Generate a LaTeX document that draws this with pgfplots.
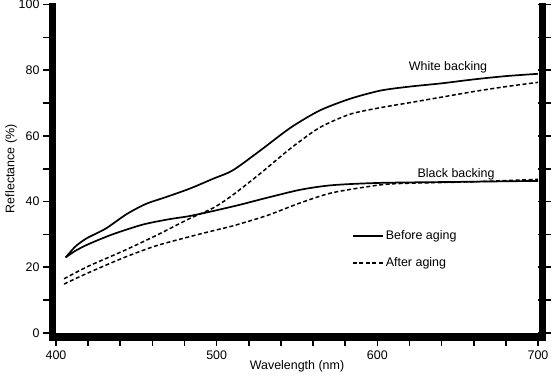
\documentclass[border=0pt]{standalone}
\usepackage{pgfplots}
\pgfplotsset{compat=1.18}
\usepackage{fontspec}
\setmainfont{Liberation Sans}
\begin{document}
\begin{tikzpicture}
\begin{axis}[
  name=ax,
  scale only axis,
  width=482bp, height=328.5bp,
  xmin=400, xmax=700, ymin=0, ymax=100,
  clip=false,
  axis line style={draw=none},
  xtick={400,420,...,700},
  xticklabels={400,,,,,500,,,,,600,,,,,700},
  ytick={0,10,...,100},
  yticklabels={0,,20,,40,,60,,80,,100},
  xtick pos=bottom,
  ytick pos=both,
  yticklabel pos=left,
  tick align=outside,
  major tick length=13bp,
  major tick style={line width=1.6bp, black},
  /pgf/number format/assume math mode=true,
  tick label style={font=\fontsize{12.5}{14}\selectfont},
  xticklabel style={yshift=-1.5bp},
  label style={font=\fontsize{12.5}{14}\selectfont},
  xlabel style={yshift=6bp},
  ylabel style={yshift=-5bp},
  xlabel={Wavelength (nm)},
  ylabel={Reflectance (\%)},
  legend style={draw=none, fill=none, at={(0.614,0.319)}, anchor=north west,
    font=\fontsize{12.5}{14}\selectfont, row sep=13bp, inner sep=0pt},
  legend cell align=left,
  legend image code/.code={\draw[#1] (0bp,0bp) -- (30bp,0bp);},
]
% White backing, before aging
\addplot[black, line width=1.7bp, smooth, tension=0.45] coordinates {
(406,23.0) (412,26.3) (419,28.8) (431,31.8) (444,36.2) (456,39.3) (468,41.3)
(483,43.9) (498,47.0) (510,49.5) (527,55.5) (546,62.5) (564,67.7) (583,71.3)
(602,73.8) (620,75.0) (640,76.0) (660,77.2) (680,78.2) (700,78.9)
};
\addlegendentry{Before aging}
% White backing, after aging
\addplot[black, line width=1.5bp, dash pattern=on 4bp off 2.5bp, smooth, tension=0.45] coordinates {
(405,16.5) (420,20.3) (442,25.0) (462,29.6) (483,34.8) (498,38.1) (510,42.0)
(527,48.5) (546,56.2) (564,62.5) (583,66.6) (602,68.6) (620,70.1) (640,71.8)
(660,73.5) (680,75.0) (700,76.3)
};
\addlegendentry{After aging}
% Black backing, before aging
\addplot[black, line width=1.7bp, smooth, tension=0.45, forget plot] coordinates {
(406,23.0) (412,25.0) (420,27.0) (435,30.0) (454,33.0) (470,34.6) (482,35.5)
(492,36.5) (502,37.6) (515,39.1) (530,41.0) (552,43.6) (572,45.0) (602,45.7)
(650,46.0) (700,46.3)
};
% Black backing, after aging
\addplot[black, line width=1.5bp, dash pattern=on 4bp off 2.5bp, smooth, tension=0.45, forget plot] coordinates {
(405,14.9) (420,18.3) (442,22.9) (462,26.5) (483,29.3) (500,31.4) (510,32.6)
(531,35.7) (552,39.6) (572,42.7) (602,45.1) (620,45.6) (650,45.9) (680,46.4)
(700,46.8)
};
\node[font=\fontsize{12.5}{14}\selectfont] at (axis cs:644,81.0) {White backing};
\node[font=\fontsize{12.5}{14}\selectfont] at (axis cs:649,48.3) {Black backing};
% heavy frame
\draw[line width=7bp] ([xshift=-3.5bp,yshift=-8bp]rel axis cs:0,0) -- ([xshift=-3.5bp,yshift=1bp]rel axis cs:0,1);
\draw[line width=7bp] ([xshift=4.5bp,yshift=-8bp]rel axis cs:1,0) -- ([xshift=4.5bp,yshift=1bp]rel axis cs:1,1);
\draw[line width=8bp] ([xshift=-7bp,yshift=-4bp]rel axis cs:0,0) -- ([xshift=8bp,yshift=-4bp]rel axis cs:1,0);
\end{axis}
\pgfresetboundingbox
\path ([xshift=-56bp,yshift=-45bp]ax.south west) rectangle ([xshift=15bp,yshift=4.5bp]ax.north east);
\end{tikzpicture}
\end{document}
